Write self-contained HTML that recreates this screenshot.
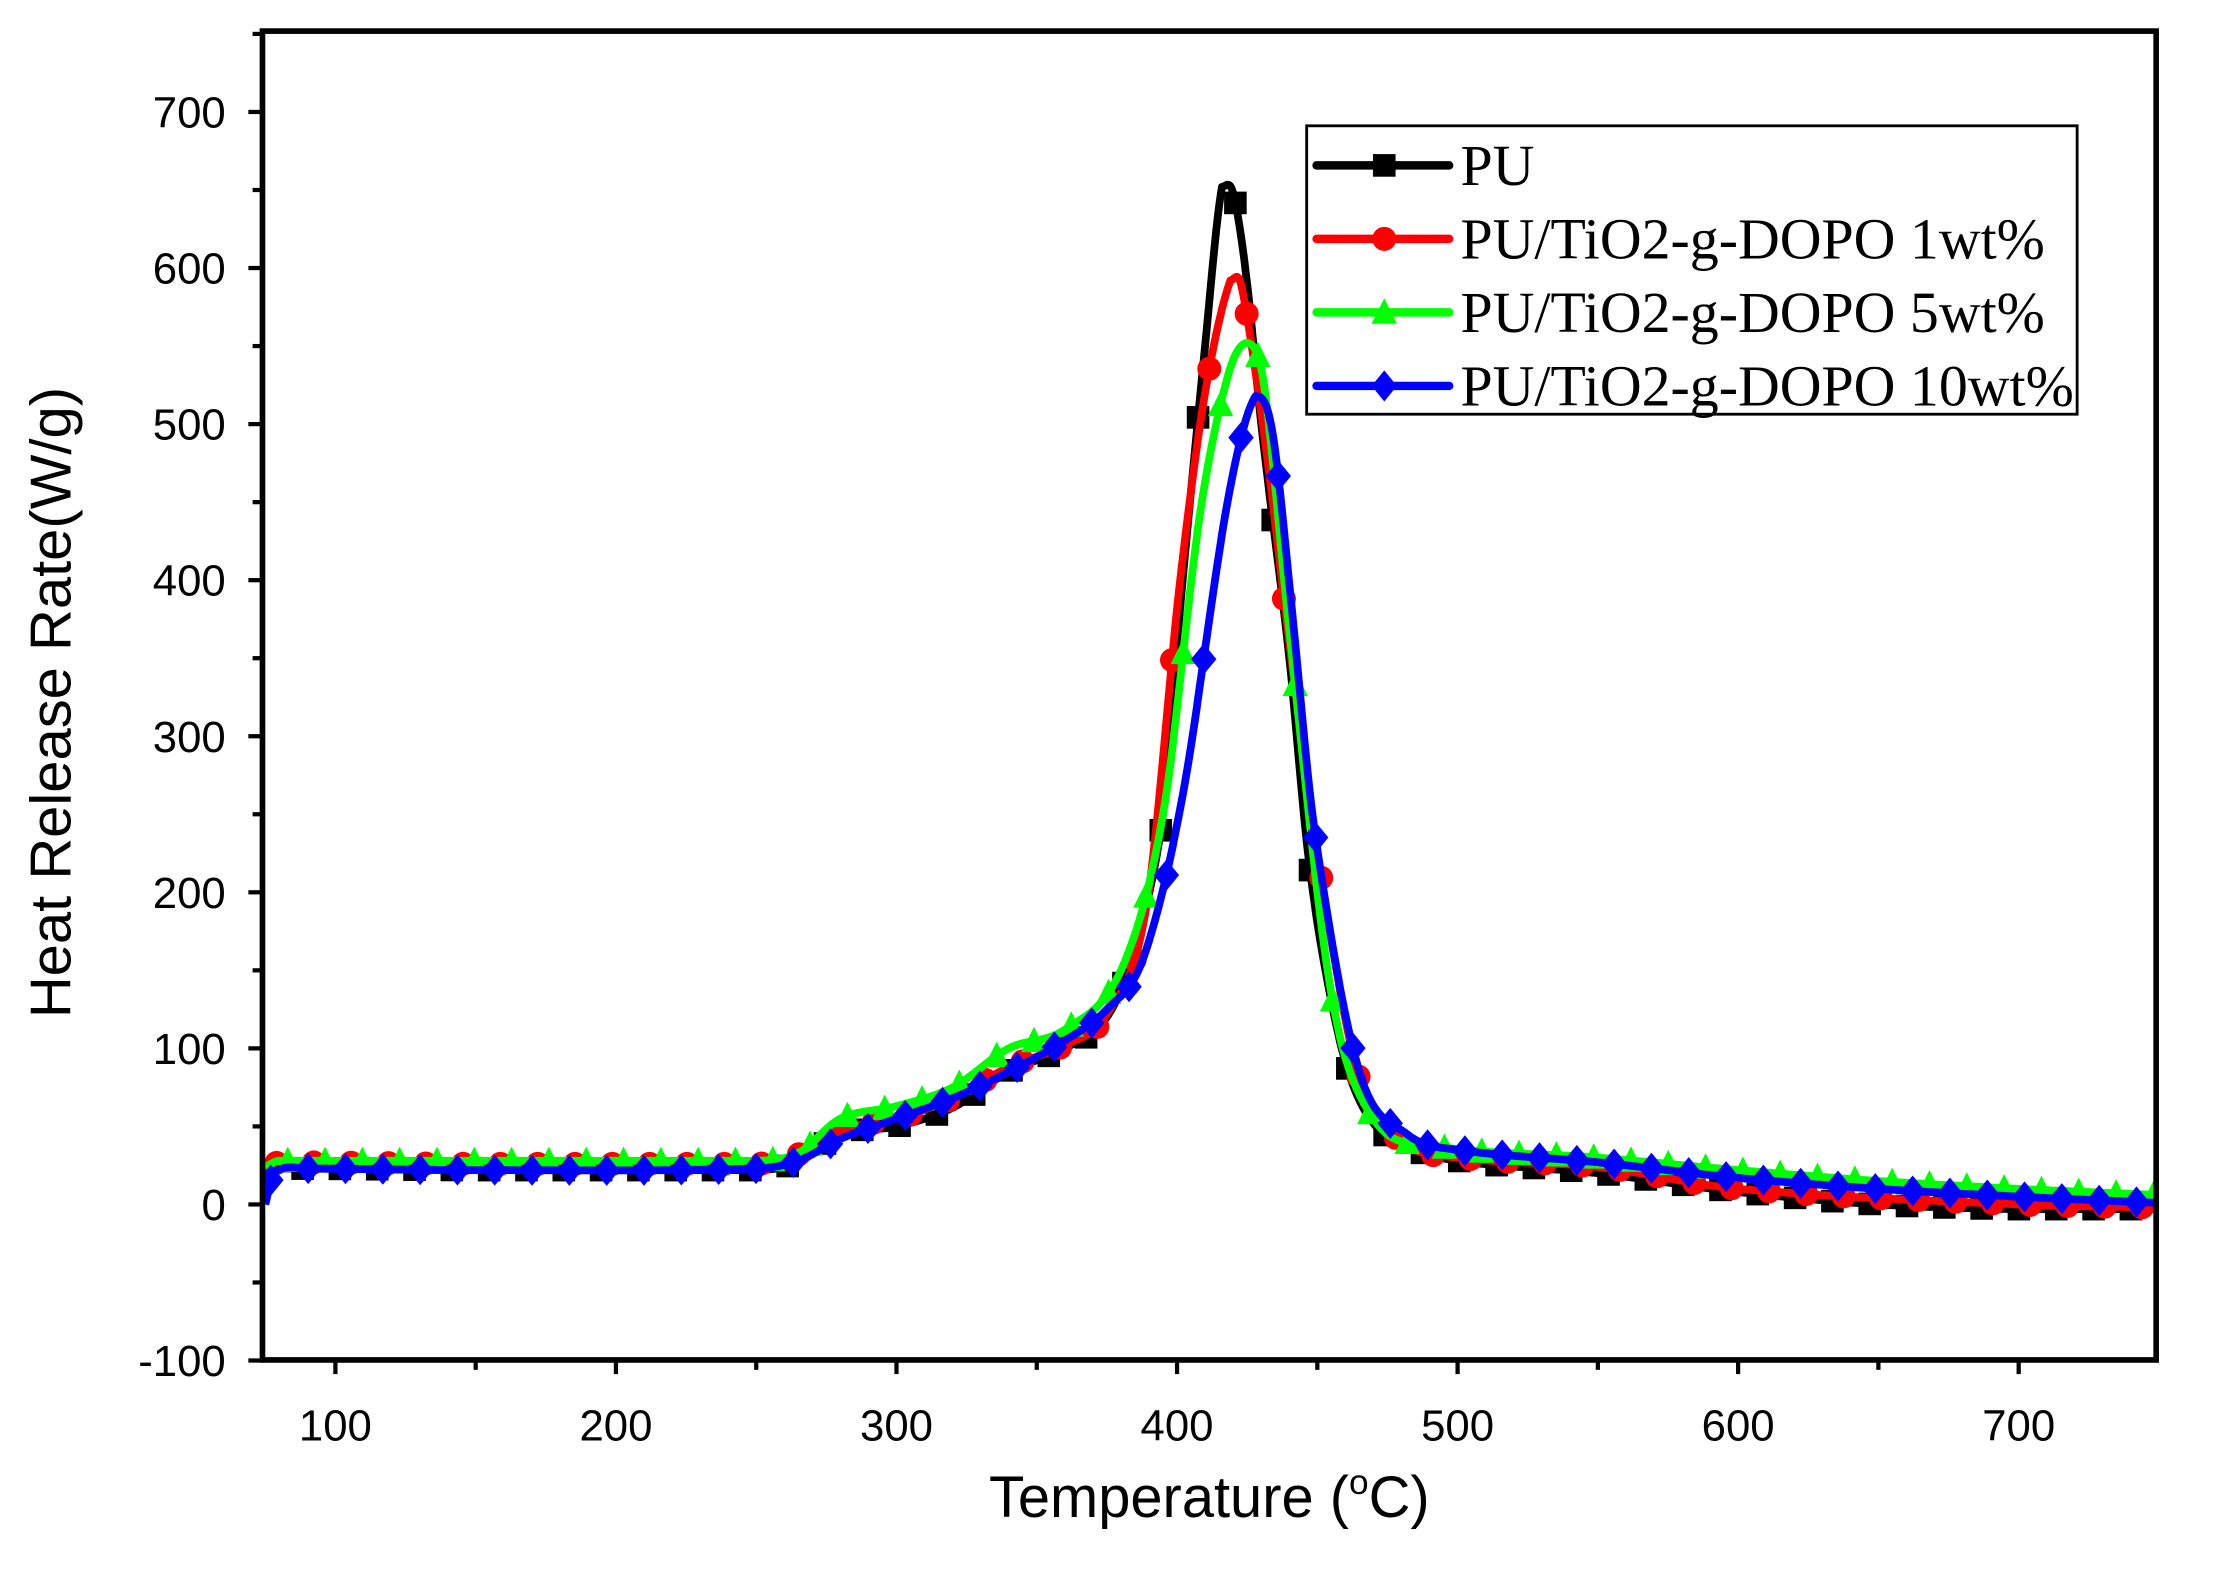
<!DOCTYPE html>
<html><head><meta charset="utf-8"><style>
html,body{margin:0;padding:0;background:#fff;}
svg{display:block}
</style></head><body>
<svg id="s" width="2214" height="1572" viewBox="0 0 1569 1112" preserveAspectRatio="none" xmlns="http://www.w3.org/2000/svg" font-family="Liberation Sans, Arial, sans-serif">
<rect width="1569" height="1112" fill="#fff"/>
<g id="ticks" stroke="#000" stroke-width="3"></g>
<g id="labels" font-size="31" fill="#000"></g>
<defs><clipPath id="c"><rect x="186" y="22" width="1342" height="940"/></clipPath></defs>
<g id="series" clip-path="url(#c)"></g>
<rect x="186" y="22" width="1342" height="940" fill="none" stroke="#000" stroke-width="4"/>
<text x="50" y="497" font-size="41" text-anchor="middle" transform="rotate(-90 50 497)">Heat Release Rate(W/g)</text>
<text x="857" y="1073" font-size="41" text-anchor="middle">Temperature (<tspan font-size="25" dy="-16">o</tspan><tspan dy="16">C)</tspan></text>
<g id="legend">
<rect x="926" y="89" width="546" height="204" fill="#fff" stroke="#000" stroke-width="2"/>
</g>
</svg>
<script>
const NS="http://www.w3.org/2000/svg";
const X0=74, X1=749, L=186, R=1528, T=22, B=962;
const px=x=>L+(x-X0)/(X1-X0)*(R-L);
const py=y=>852-y*1.104;
function el(tag,attrs,parent){const e=document.createElementNS(NS,tag);for(const k in attrs)e.setAttribute(k,attrs[k]);parent.appendChild(e);return e;}
const tk=document.getElementById('ticks'), lb=document.getElementById('labels');
for(let v=-100;v<=750;v+=50){const y=py(v);if(y<T-1||y>B+1)continue;const maj=v%100===0;
 el('line',{x1:L-(maj?10:7),x2:L,y1:y,y2:y},tk);
 if(maj){const t=el('text',{x:L-26,y:y+11,'text-anchor':'end'},lb);t.textContent=v;}}
for(let v=100;v<=750;v+=50){const x=px(v);if(x>R)continue;const maj=v%100===0;
 el('line',{x1:x,x2:x,y1:B,y2:B+(maj?10:7)},tk);
 if(maj){const t=el('text',{x:x,y:B+57,'text-anchor':'middle'},lb);t.textContent=v;}}
function interp(pts){return x=>{if(x<=pts[0][0])return pts[0][1];for(let i=0;i<pts.length-1;i++){const [a,ya]=pts[i],[b,yb]=pts[i+1];if(x<=b){const n=pts.length;
 const m=(j)=>{const p0=pts[Math.max(j-1,0)],p1=pts[Math.min(j+1,n-1)];return (p1[1]-p0[1])/(p1[0]-p0[0]);};
 let ma=m(i),mb=m(i+1);const d=(yb-ya)/(b-a);if(d===0){ma=mb=0}else{if(ma/d<0)ma=0;if(mb/d<0)mb=0;}
 const h=b-a,t=(x-a)/h,t2=t*t,t3=t2*t;return (2*t3-3*t2+1)*ya+(t3-2*t2+t)*h*ma+(-2*t3+3*t2)*yb+(t3-t2)*h*mb;}}return pts[pts.length-1][1];};}
const S=[
 {c:'#000',m:'sq',off:0,p:[[75,20],[80,23],[150,22],[250,22],[265,27],[280,45],[300,50],[320,62],[340,85],[360,100],[375,120],[385,165],[395,250],[401,380],[410,550],[416,652],[420,648],[425,590],[430,500],[440,350],[447,220],[455,130],[462,80],[470,52],[480,38],[500,28],[550,20],[600,8],[650,0],[700,-3],[750,-3]]},
 {c:'#f00',m:'ci',off:4,p:[[75,22],[80,27],[150,26],[250,26],[265,32],[280,48],[300,55],[320,68],[340,88],[360,102],[375,122],[389,190],[401,398],[410,520],[419,592],[423,588],[432,480],[440,360],[450,225],[465,80],[480,40],[500,30],[550,24],[600,10],[700,0],[750,-2]]},
 {c:'#0f0',m:'tr',off:8,p:[[75,24],[80,28],[150,28],[250,28],[265,33],[280,55],[300,63],[320,75],[340,100],[360,112],[380,150],[395,250],[408,440],[418,530],[425,552],[431,525],[440,368],[455,135],[470,55],[490,38],[550,30],[600,22],[650,15],[700,10],[750,6]]},
 {c:'#00f',m:'di',off:2,p:[[75,0],[78,20],[90,23],[150,22],[250,23],[265,28],[280,42],[300,55],[320,68],[340,85],[360,105],[375,125],[388,158],[402,262],[418,450],[428,518],[434,495],[441,380],[449,240],[465,85],[482,45],[500,35],[550,27],[600,17],[650,10],[700,5],[750,1]]}];
const g=document.getElementById('series');
function marker(m,x,y,c,par){const s=8;
 if(m==='sq')el('rect',{x:x-s,y:y-s,width:2*s,height:2*s,fill:c},par);
 else if(m==='ci')el('circle',{cx:x,cy:y,r:s+0.5,fill:c},par);
 else if(m==='tr')el('polygon',{points:`${x},${y-s-2} ${x+s+1},${y+s} ${x-s-1},${y+s}`,fill:c},par);
 else el('polygon',{points:`${x},${y-s-3} ${x+s+1},${y} ${x},${y+s+3} ${x-s-1},${y}`,fill:c},par);}
S.forEach(s=>{const f=interp(s.p);let d='';for(let x=75;x<=750;x+=0.5){d+=(d?'L':'M')+px(x).toFixed(1)+','+py(f(x)).toFixed(1);}
 el('path',{d:d,fill:'none',stroke:s.c,'stroke-width':5.5,'stroke-linejoin':'round'},g);
 const mg=el('g',{},g);for(let x=75+s.off;x<=750;x+=13.3){marker(s.m,px(x),py(f(x)),s.c,mg);}});
const lg=document.getElementById('legend');
const names=['PU','PU/TiO2-g-DOPO 1wt%','PU/TiO2-g-DOPO 5wt%','PU/TiO2-g-DOPO 10wt%'];
S.forEach((s,i)=>{const y=117+i*52;
 el('line',{x1:933,x2:1027,y1:y,y2:y,stroke:s.c,'stroke-width':6,'stroke-linecap':'round'},lg);
 marker(s.m,981,y,s.c,lg);
 const t=el('text',{x:1035,y:y+14,'font-size':41,style:'font-family:"Liberation Serif","Times New Roman",serif'},lg);t.textContent=names[i];});
</script>
</body></html>
